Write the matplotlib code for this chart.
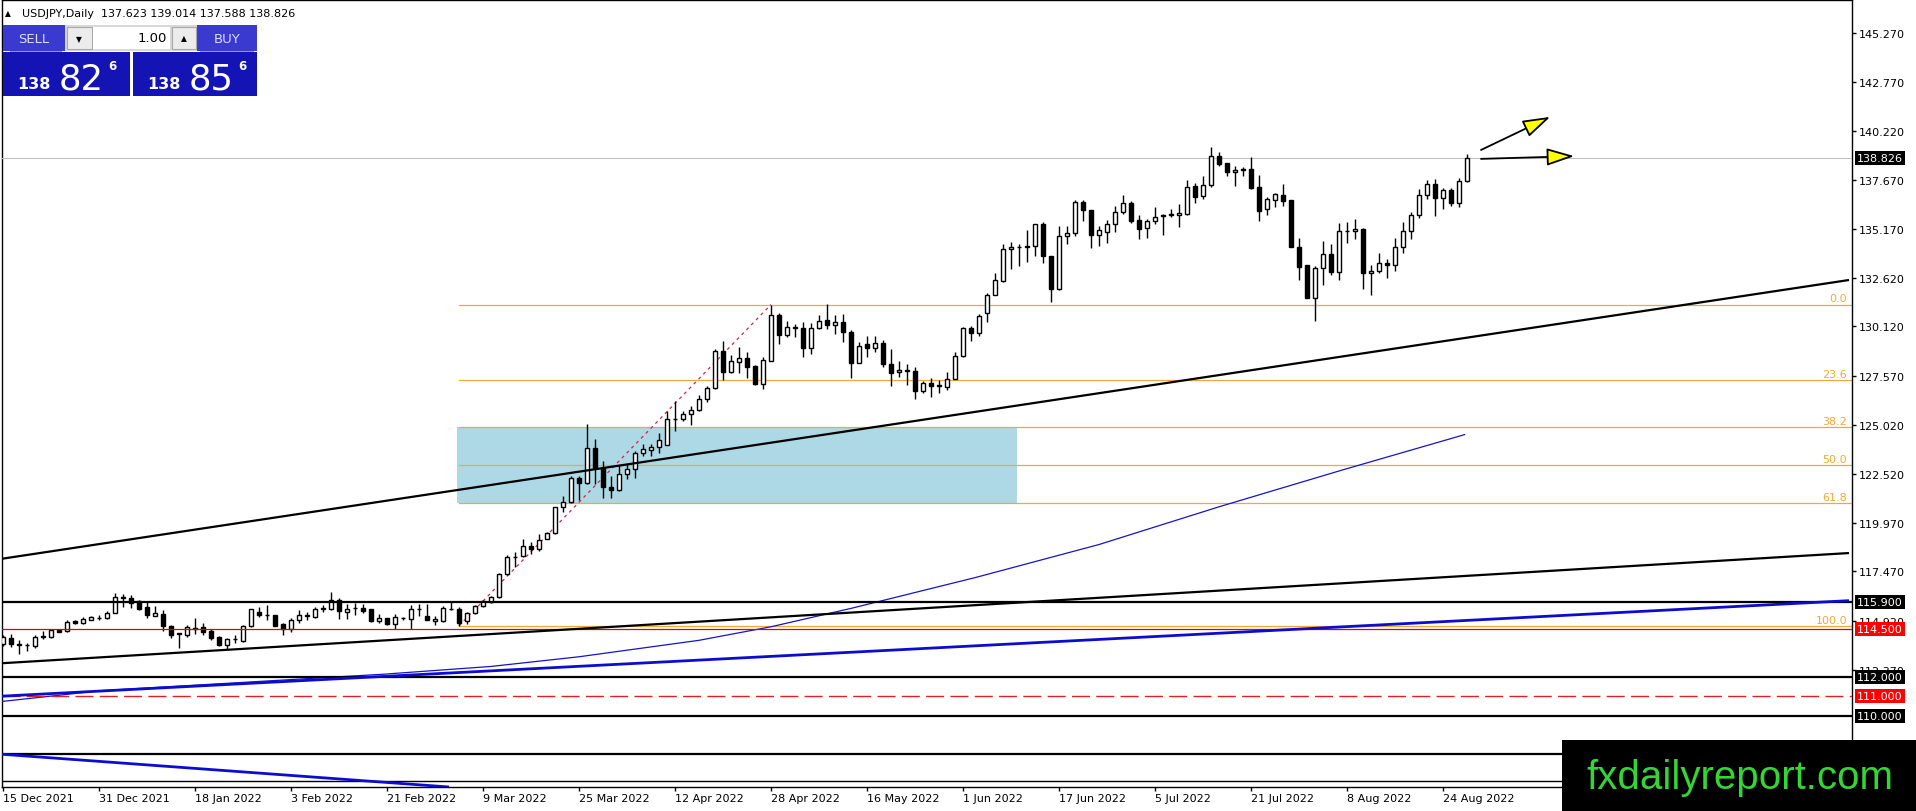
import matplotlib
matplotlib.use('Agg')
import matplotlib.pyplot as plt
import matplotlib.transforms as mtransforms
from matplotlib.patches import Rectangle, FancyArrowPatch
import numpy as np

W, H = 1916, 812

# USDJPY daily candles, 15 Dec 2021 .. 29 Aug 2022 (one per weekday)
opens = [
    113.69, 114.03, 113.70, 113.68, 113.62, 114.08, 114.08, 114.43, 114.37, 114.89, 114.80, 114.97,
    115.06, 115.03, 115.33, 116.10, 116.09, 115.93, 115.63, 115.16, 115.28, 114.65, 114.25, 114.17,
    114.52, 114.60, 114.39, 114.08, 113.65, 113.95, 113.86, 114.65, 115.38, 115.23, 115.20, 114.72,
    114.48, 114.94, 115.20, 115.11, 115.54, 115.50, 115.97, 115.37, 115.57, 115.59, 115.50, 114.89,
    115.03, 114.73, 115.03, 114.99, 115.50, 115.16, 114.90, 114.89, 115.52, 115.54, 114.89, 115.33,
    115.68, 115.88, 116.14, 117.34, 118.22, 118.25, 118.78, 118.62, 119.14, 119.45, 120.77, 121.06,
    122.31, 122.02, 123.85, 122.82, 121.83, 121.66, 122.52, 122.74, 123.56, 123.73, 123.90, 124.00,
    125.34, 125.34, 125.62, 125.82, 126.38, 126.94, 128.86, 127.79, 128.27, 128.48, 128.09, 127.14,
    128.36, 130.71, 129.68, 130.07, 130.02, 129.00, 130.02, 130.45, 130.18, 130.33, 129.82, 128.22,
    129.20, 129.00, 129.28, 128.17, 127.76, 127.88, 127.83, 126.77, 127.19, 127.11, 126.97, 127.43,
    128.60, 130.02, 129.76, 130.79, 131.77, 132.47, 134.13, 134.25, 134.27, 134.27, 135.39, 133.74,
    132.03, 134.80, 134.96, 136.57, 136.14, 134.86, 135.00, 135.39, 136.02, 136.50, 135.62, 135.19,
    135.56, 135.85, 135.92, 135.88, 135.95, 137.40, 136.85, 137.42, 138.93, 138.57, 138.10, 138.22,
    138.28, 137.33, 136.18, 136.64, 136.93, 136.64, 134.23, 133.29, 131.60, 133.15, 133.88, 132.91,
    135.06, 135.06, 135.18, 132.89, 132.98, 133.41, 133.29, 134.23, 135.06, 135.90, 136.90, 137.50,
    136.76, 137.16, 136.52, 137.623,
]
highs = [
    114.20, 114.25, 113.91, 113.74, 114.20, 114.39, 114.49, 114.51, 114.94, 114.96, 115.09, 115.18,
    115.20, 115.40, 116.36, 116.31, 116.23, 115.97, 115.88, 115.68, 115.45, 114.68, 114.27, 114.68,
    115.06, 114.77, 114.46, 114.12, 114.00, 114.17, 114.68, 115.54, 115.62, 115.71, 115.23, 114.77,
    115.03, 115.45, 115.37, 115.63, 115.71, 116.40, 116.09, 115.80, 115.85, 115.80, 115.54, 115.28,
    115.06, 115.28, 115.11, 115.71, 115.80, 115.76, 115.17, 115.66, 115.92, 115.60, 115.37, 115.75,
    115.97, 116.20, 117.36, 118.30, 118.45, 119.14, 119.00, 119.40, 119.50, 120.80, 121.37, 122.40,
    122.40, 125.10, 124.28, 123.17, 122.40, 122.94, 123.00, 123.68, 124.02, 124.02, 124.62, 125.74,
    126.25, 125.74, 126.00, 126.59, 127.02, 128.94, 129.37, 128.65, 129.05, 128.82, 128.14, 128.56,
    131.25, 130.83, 130.42, 130.24, 130.33, 130.31, 130.71, 131.26, 130.71, 130.74, 129.94, 129.34,
    129.63, 129.64, 129.42, 128.94, 128.31, 128.17, 128.02, 127.28, 127.45, 127.33, 127.79, 128.82,
    130.07, 130.14, 130.76, 131.86, 132.88, 134.36, 134.48, 134.36, 135.08, 135.42, 135.51, 133.76,
    135.33, 135.33, 136.65, 136.65, 136.16, 135.33, 135.63, 136.33, 136.93, 136.62, 135.88, 135.68,
    136.31, 135.93, 136.20, 136.45, 137.68, 137.55, 137.90, 139.39, 139.14, 138.57, 138.41, 138.36,
    138.88, 137.93, 136.81, 137.04, 137.50, 136.66, 134.70, 133.30, 133.23, 134.53, 134.36, 135.49,
    135.53, 135.66, 135.20, 133.28, 133.92, 133.63, 134.70, 135.53, 136.04, 137.24, 137.67, 137.76,
    137.28, 137.28, 137.79, 139.014,
]
lows = [
    113.60, 113.57, 113.18, 113.35, 113.48, 113.96, 114.03, 114.31, 114.31, 114.75, 114.72, 114.96,
    114.97, 114.99, 115.33, 115.63, 115.57, 115.45, 115.03, 115.16, 114.37, 114.00, 113.48, 114.08,
    114.25, 114.20, 113.91, 113.62, 113.43, 113.74, 113.83, 114.60, 115.10, 114.94, 114.63, 114.17,
    114.34, 114.82, 114.94, 115.03, 115.34, 115.49, 114.99, 114.99, 115.23, 115.33, 114.85, 114.77,
    114.68, 114.51, 114.94, 114.48, 115.16, 114.94, 114.70, 114.85, 115.45, 114.65, 114.72, 115.28,
    115.60, 115.85, 116.10, 117.30, 117.68, 118.20, 118.37, 118.50, 119.12, 119.40, 120.54, 121.00,
    121.15, 121.97, 121.97, 121.28, 121.28, 121.62, 122.22, 122.31, 123.42, 123.42, 123.60, 123.97,
    124.71, 125.22, 125.05, 125.74, 126.20, 126.89, 127.37, 127.74, 127.71, 127.45, 127.11, 126.89,
    128.31, 129.20, 129.56, 129.59, 128.53, 128.70, 129.97, 130.00, 129.71, 129.34, 127.45, 128.22,
    128.56, 128.82, 128.02, 127.02, 127.49, 127.11, 126.39, 126.68, 126.47, 126.68, 126.85, 127.40,
    128.56, 129.39, 129.64, 130.33, 131.74, 132.42, 133.09, 133.24, 133.45, 133.76, 133.41, 131.39,
    132.00, 134.39, 134.79, 135.56, 134.19, 134.27, 134.44, 135.00, 135.93, 135.45, 134.65, 134.68,
    135.42, 134.87, 135.76, 135.25, 135.90, 136.48, 136.69, 137.34, 138.40, 137.88, 137.38, 137.90,
    137.24, 135.56, 135.87, 136.30, 136.35, 134.20, 132.51, 131.58, 130.40, 132.28, 132.77, 132.51,
    134.42, 134.66, 132.08, 131.74, 132.89, 132.60, 132.98, 133.92, 134.66, 135.73, 136.73, 135.83,
    136.21, 136.35, 136.30, 137.588,
]
closes = [
    114.08, 113.69, 113.68, 113.66, 114.08, 114.10, 114.41, 114.34, 114.85, 114.80, 114.99, 115.08,
    115.07, 115.33, 116.14, 116.14, 115.83, 115.51, 115.20, 115.32, 114.65, 114.17, 114.26, 114.60,
    114.50, 114.31, 114.03, 113.65, 113.95, 113.96, 114.65, 115.50, 115.20, 115.22, 114.65, 114.48,
    114.97, 115.23, 115.14, 115.54, 115.55, 115.97, 115.40, 115.54, 115.58, 115.42, 114.89, 115.06,
    114.73, 115.08, 115.04, 115.50, 115.51, 114.95, 115.00, 115.57, 115.50, 114.77, 115.33, 115.68,
    115.92, 116.14, 117.34, 118.20, 118.23, 118.80, 118.64, 119.10, 119.45, 120.77, 121.06, 122.31,
    122.05, 123.85, 122.82, 121.80, 121.66, 122.52, 122.74, 123.56, 123.77, 123.90, 124.23, 125.34,
    125.36, 125.60, 125.80, 126.37, 126.94, 128.87, 127.79, 128.31, 128.48, 128.05, 127.14, 128.39,
    130.71, 129.68, 130.07, 130.02, 129.00, 130.02, 130.38, 130.18, 130.33, 129.82, 128.22, 129.11,
    129.00, 129.25, 128.17, 127.74, 127.88, 127.83, 126.77, 127.19, 127.06, 127.02, 127.43, 128.60,
    130.02, 129.76, 130.67, 131.77, 132.51, 134.13, 134.25, 134.22, 134.22, 135.39, 133.74, 132.03,
    134.80, 134.96, 136.57, 136.14, 134.86, 135.11, 135.42, 136.02, 136.50, 135.59, 135.15, 135.56,
    135.80, 135.87, 135.90, 136.00, 137.33, 136.82, 137.45, 138.93, 138.50, 138.10, 138.22, 138.24,
    137.30, 136.07, 136.69, 136.95, 136.59, 134.23, 133.20, 131.60, 133.15, 133.88, 132.91, 135.06,
    135.04, 135.18, 132.89, 132.99, 133.41, 133.29, 134.23, 135.06, 135.90, 136.93, 137.50, 136.76,
    137.16, 136.52, 137.62, 138.826,
]

date_labels = ['15 Dec 2021', '31 Dec 2021', '18 Jan 2022', '3 Feb 2022', '21 Feb 2022',
               '9 Mar 2022', '25 Mar 2022', '12 Apr 2022', '28 Apr 2022', '16 May 2022',
               '1 Jun 2022', '17 Jun 2022', '5 Jul 2022', '21 Jul 2022', '8 Aug 2022', '24 Aug 2022']
price_ticks = [145.270, 142.770, 140.220, 137.670, 135.170, 132.620, 130.120, 127.570,
               125.020, 122.520, 119.970, 117.470, 114.920, 112.370]

# horizontal levels
black_levels = [115.90, 112.00, 110.00, 108.00]
thin_black_level = 106.65
red_level = 114.50
red_dash_level = 111.00
bid = 138.826
tagged = [(138.826, 'black'), (115.900, 'black'), (114.500, '#ff0000'),
          (112.000, 'black'), (111.000, '#ff0000'), (110.000, 'black')]

# fibonacci retracement (bar index, price)
fib_start = (57, 114.65)
fib_end = (96, 131.25)
fib_ratios = [0.0, 23.6, 38.2, 50.0, 61.8, 100.0]
zone_bars = (56.8, 126.7)

# trend lines, (bar, price) end points
upper_trend = [(-0.375, 118.10), (230.75, 132.52)]
lower_trend = [(-0.375, 112.71), (230.75, 118.41)]
blue_trend = [(-0.375, 111.01), (230.75, 115.95)]
blue_down = [(-0.375, 108.02), (55.75, 106.32)]

# moving average
ma_bars = [-0.375, 12.3, 47.6, 61, 72, 87, 96, 106, 121.6, 137, 152, 167.4, 182.7]
ma_vals = [110.73, 111.30, 112.15, 112.55, 113.05, 113.90, 114.60, 115.55, 117.15,
           118.85, 120.80, 122.70, 124.53]

# the two yellow arrows
arrows = [((184.75, 138.78), (196.4, 138.92)), ((184.75, 139.24), (193.4, 140.95))]

fig = plt.figure(figsize=(W / 100, H / 100), dpi=100)
ax = fig.add_axes([2 / W, 24 / H, 1850 / W, 787 / H])
ax.set_xlim(-0.125, 231.125)
ax.set_ylim(106.32, 146.99)
for s in ax.spines.values():
    s.set_color('black')
    s.set_linewidth(1)

o = np.array(opens)
h = np.array(highs)
l = np.array(lows)
c = np.array(closes)
x = np.arange(len(o))
up = c >= o
bot = np.minimum(o, c)
hgt = np.abs(c - o)

# zone + fib
span = fib_end[1] - fib_start[1]
ax.add_patch(Rectangle((zone_bars[0], fib_end[1] - 0.618 * span),
                       zone_bars[1] - zone_bars[0], 0.236 * span,
                       facecolor='#add8e6', edgecolor='none', zorder=1))
fib_col = '#f0a83a'
trans = mtransforms.blended_transform_factory(ax.transAxes, ax.transData)
for r in fib_ratios:
    lvl = fib_end[1] - r / 100 * span
    ax.plot([fib_start[0], 231.125], [lvl, lvl], color=fib_col, lw=0.9, zorder=2)
    ax.text((1847 - 2) / 1850, lvl + 0.06, f'{r:.1f}', color=fib_col, fontsize=8,
            ha='right', va='bottom', transform=trans, zorder=3)
ax.plot([fib_start[0], fib_end[0]], [fib_start[1], fib_end[1]], color='#c8284a', lw=0.9,
        ls=(0, (2.5, 3)), zorder=3)

# moving average
ax.plot(ma_bars, ma_vals, color='#1414c8', lw=0.9, zorder=3)

# candles
ax.vlines(x, l, h, color='black', lw=1, zorder=4)
ax.bar(x[up], hgt[up], 0.62, bottom=bot[up], facecolor='white', edgecolor='black', lw=1, zorder=5)
ax.bar(x[~up], hgt[~up], 0.62, bottom=bot[~up], facecolor='black', edgecolor='black', lw=1, zorder=5)

# horizontal lines
ax.axhline(bid, color='#c0c0c0', lw=0.8, zorder=3)
for lv in black_levels:
    ax.axhline(lv, color='black', lw=1.6, zorder=6)
ax.axhline(thin_black_level, color='black', lw=1, zorder=6)
ax.axhline(red_level, color='#e00000', lw=0.9, zorder=6)
ax.axhline(red_dash_level, color='#e02020', lw=1, ls=(0, (13, 4.5)), zorder=6)

# trend lines
for pts, col, lw in [(upper_trend, 'black', 1.6), (lower_trend, 'black', 1.6),
                     (blue_trend, '#0c0cd0', 2.0), (blue_down, '#0c0cd0', 2.0)]:
    (x0, y0), (x1, y1) = pts
    ax.plot([x0, x1], [y0, y1], color=col, lw=lw, zorder=6, solid_capstyle='butt')

for (x0, y0), (x1, y1) in arrows:
    ax.add_patch(FancyArrowPatch((x0, y0), (x1, y1),
                                 arrowstyle='-|>,head_length=0.85,head_width=0.27',
                                 mutation_scale=20, facecolor='#ffff00', edgecolor='black',
                                 lw=1.3, zorder=7, shrinkA=0, shrinkB=0))

# axes ticks
ax.yaxis.tick_right()
ax.set_yticks(price_ticks)
ax.set_yticklabels([f'{v:.3f}' for v in price_ticks], fontsize=8)
ax.tick_params(axis='y', length=3, width=1, pad=2, colors='black')
ax.set_xticks(list(range(0, len(o), 12))[:len(date_labels)])
ax.set_xticklabels(date_labels, fontsize=8, ha='left')
ax.tick_params(axis='x', length=3, width=1, pad=1.5)

for lv, col in tagged:
    ax.text((1857 - 2) / 1850, lv, f'{lv:.3f}', transform=trans, fontsize=8, color='white',
            ha='left', va='center', clip_on=False, zorder=20,
            bbox=dict(boxstyle='square,pad=0.18', facecolor=col, edgecolor='none'))


def box(x0, y0, x1, y1, fc, ec='none', lw=0, z=30):
    fig.patches.append(Rectangle((x0 / W, 1 - y1 / H), (x1 - x0) / W, (y1 - y0) / H,
                                 transform=fig.transFigure, facecolor=fc, edgecolor=ec,
                                 linewidth=lw, zorder=z))


def label(px, py, s, **kw):
    kw.setdefault('zorder', 31)
    fig.text(px / W, 1 - py / H, s, **kw)


# title
label(5, 14, '\u25b2', fontsize=5.5, va='center', ha='left')
label(22, 14, 'USDJPY,Daily  137.623 139.014 137.588 138.826', fontsize=8, va='center', ha='left')

# one click trading panel
box(3, 26, 65, 52, '#3a3ad0')
box(197, 26, 257, 52, '#3a3ad0')
box(65, 26, 197, 52, '#d8d8d8')
box(67, 28, 92, 50, '#ececec', ec='#a8a8a8', lw=0.8)
box(93, 28, 170, 50, 'white')
box(172, 28, 196, 50, '#ececec', ec='#a8a8a8', lw=0.8)
box(3, 53, 130, 97, '#1414b4')
box(133, 53, 257, 97, '#1414b4')
box(10, 51.5, 62, 52.5, '#9090f0', z=31)
box(200, 51.5, 254, 52.5, '#9090f0', z=31)
label(34, 39.5, 'SELL', fontsize=9.5, color='#dcdcff', ha='center', va='center')
label(227, 39.5, 'BUY', fontsize=9.5, color='#dcdcff', ha='center', va='center')
label(167, 39, '1.00', fontsize=9.5, color='black', ha='right', va='center')
label(79, 39.5, '\u25bc', fontsize=5.5, ha='center', va='center')
label(184, 39, '\u25b2', fontsize=5.5, ha='center', va='center')
for bx, big in [(0, '82'), (130, '85')]:
    label(17 + bx, 89, '138', fontsize=11.5, color='white', fontweight='bold', ha='left', va='baseline')
    label(59 + bx, 89, big, fontsize=25.5, color='white', ha='left', va='baseline')
    label(108 + bx, 60, '6', fontsize=8.5, color='white', fontweight='bold', ha='left', va='top')

# watermark
box(1562, 741, 1916, 812, 'black', z=40)
label(1740, 789, 'fxdailyreport.com', fontsize=29, color='#36d536', ha='center', va='baseline',
      family=['Liberation Sans', 'DejaVu Sans'], zorder=41)

fig.savefig('out.png', dpi=100)
